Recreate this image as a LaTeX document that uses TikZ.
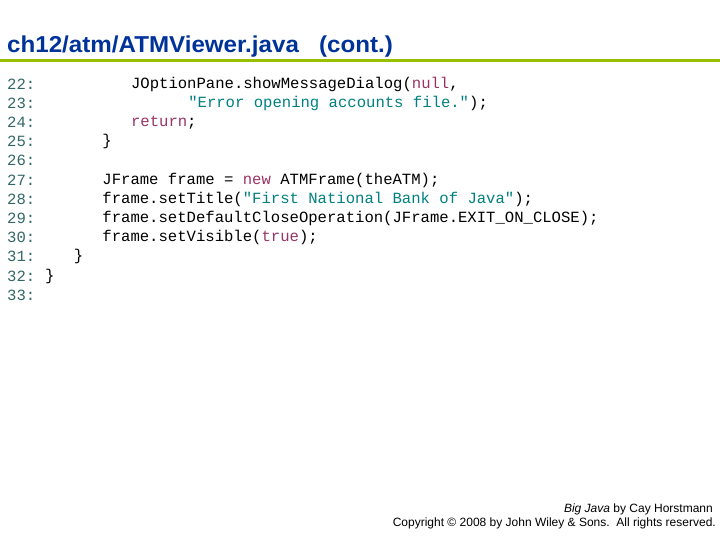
\documentclass[tikz,border=0pt]{standalone}
\usepackage{fontspec}
\setmainfont{Liberation Sans}
\newfontfamily\codefont{Liberation Mono}
\definecolor{ttl}{HTML}{003399}
\definecolor{bar}{HTML}{99C000}
\definecolor{lnum}{HTML}{336666}
\definecolor{kw}{HTML}{993366}
\definecolor{str}{HTML}{008080}
\begin{document}
\begin{tikzpicture}[x=1pt,y=-1pt,
  code/.style={anchor=west,inner sep=0pt,font=\codefont\fontsize{15.6}{18}\selectfont},
  num/.style={code,text=lnum}]
\useasboundingbox (0,0) rectangle (720,540);
\node[anchor=base west,inner sep=0pt,text=ttl,xscale=1.05,font=\bfseries\fontsize{23}{26}\selectfont] (title) at (7,53) {ch12/atm/ATMViewer.java\ \ \ (cont.)};
\fill[bar] (0,59) rectangle (720,62.5);
\foreach \n [count=\i from 0] in {22,...,33}
  \node[num] (n\n) at (7,84+\i*19.2) {\n:};
\def\cw{9.54}
\node[code] (c22) at (45+9*\cw,84) {JOptionPane.showMessageDialog(\textcolor{kw}{null},};
\node[code] (c23) at (45+15*\cw,103.2) {\textcolor{str}{"Error opening accounts file."});};
\node[code] (c24) at (45+9*\cw,122.4) {\textcolor{kw}{return};};
\node[code] (c25) at (45+6*\cw,141.6) {\}};
\node[code] (c27) at (45+6*\cw,180) {JFrame frame = \textcolor{kw}{new} ATMFrame(theATM);};
\node[code] (c28) at (45+6*\cw,199.2) {frame.setTitle(\textcolor{str}{"First National Bank of Java"});};
\node[code] (c29) at (45+6*\cw,218.4) {frame.setDefaultCloseOperation(JFrame.EXIT\_ON\_CLOSE);};
\node[code] (c30) at (45+6*\cw,237.6) {frame.setVisible(\textcolor{kw}{true});};
\node[code] (c31) at (45+3*\cw,256.8) {\}};
\node[code] (c32) at (45,276) {\}};
\node[anchor=base east,inner sep=0pt,font=\fontsize{12}{14}\selectfont] (f1) at (713,512) {\textit{Big Java} by Cay Horstmann};
\node[anchor=base east,inner sep=0pt,font=\fontsize{12}{14}\selectfont] (f2) at (716,526) {Copyright © 2008 by John Wiley \& Sons.\ \ All rights reserved.};
\end{tikzpicture}
\end{document}
